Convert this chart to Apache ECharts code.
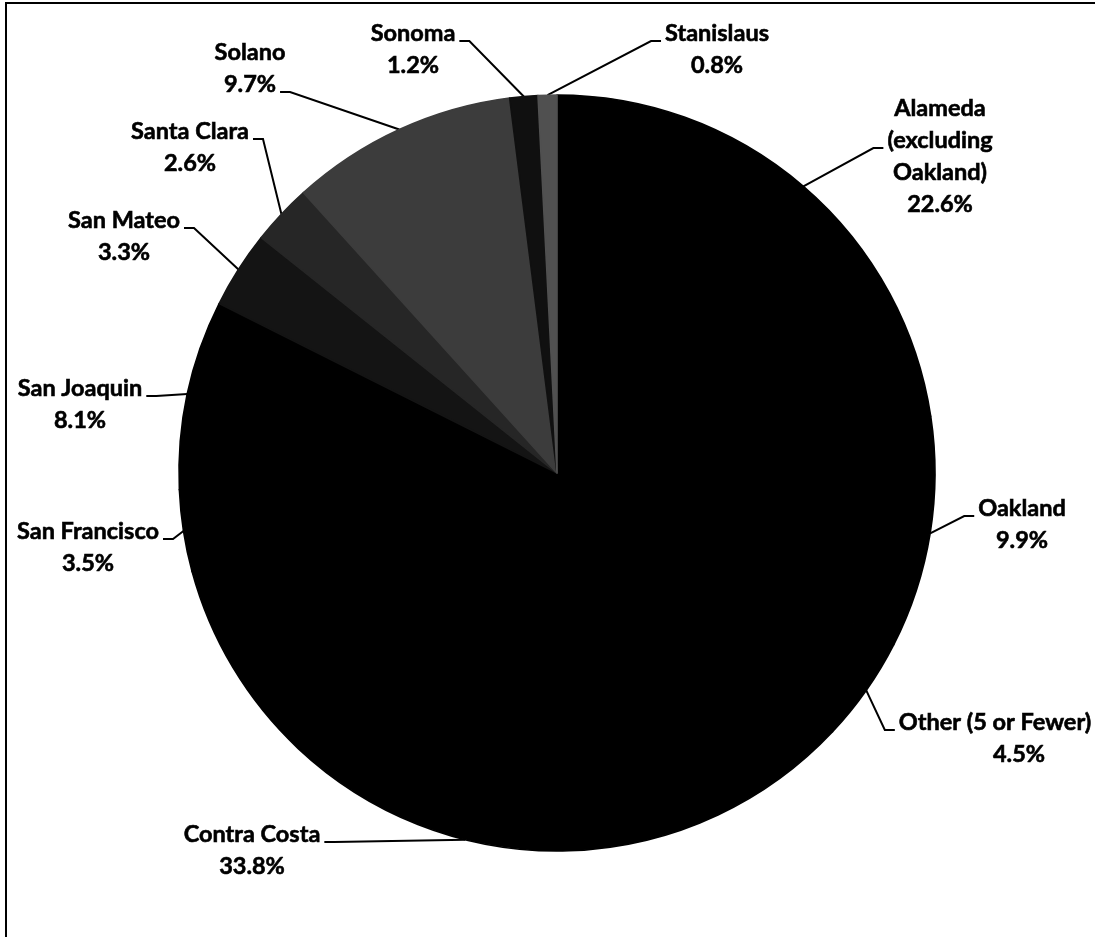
<!DOCTYPE html>
<html><head><meta charset="utf-8">
<script src="https://cdn.jsdelivr.net/npm/echarts@6/dist/echarts.min.js"></script>
<style>html,body{margin:0;padding:0;background:#fff}#c{width:1095px;height:937px}</style>
</head><body><div id="c"></div><script>
// ---- data ----
const categories = [
  'Alameda\n(excluding\nOakland)', 'Oakland', 'Other (5 or Fewer)', 'Contra Costa',
  'San Francisco', 'San Joaquin', 'San Mateo', 'Santa Clara', 'Solano', 'Sonoma', 'Stanislaus'
];
const values = [22.6, 9.9, 4.5, 33.8, 3.5, 8.1, 3.3, 2.6, 9.7, 1.2, 0.8];

// ---- styles / layout (kept separate from data) ----
const sliceColors = ['#000000', '#000000', '#000000', '#000000', '#000000', '#000000',
  '#141414', '#262626', '#3c3c3c', '#101010', '#505050'];
const labelCenterX = [940, 1022, 995, 252, 88, 80, 124, 190, 250, 413, 717];
const labelTopY = [92, 492, 706, 818, 515, 372, 204, 115, 36, 17, 17];
const labelSide = ['left', 'left', 'left', 'right', 'right', 'right', 'right', 'right', 'right', 'right', 'left'];
const labelAttachLine = [1, 0, 0, 0, 0, 0, 0, 0, 1, 0, 0];
const pctPadLeft = [0, 0, 48, 0, 0, 0, 0, 0, 0, 0, 0];

const FONT_SIZE = 23.5, LH = 32, FONT_FAMILY = 'Lato';
const mctx = document.createElement('canvas').getContext('2d');
mctx.font = 'bold ' + FONT_SIZE + 'px ' + FONT_FAMILY;
function textW(s) { return mctx.measureText(s).width; }
function fmtPct(v) { return v.toFixed(1) + '%'; }

const chart = echarts.init(document.getElementById('c'), null, { renderer: 'canvas' });
chart.setOption({
  backgroundColor: '#ffffff',
  animation: false,
  graphic: [{
    type: 'rect', silent: true, z: 100,
    shape: { x: 6, y: 3, width: 1300, height: 1100 },
    style: { fill: 'none', stroke: '#000', lineWidth: 2 }
  }],
  series: [{
    type: 'pie',
    silent: true,
    center: [557, 473],
    radius: 378,
    startAngle: 90,
    clockwise: true,
    avoidLabelOverlap: false,
    data: categories.map((n, i) => ({
      name: n, value: values[i],
      itemStyle: { color: sliceColors[i], borderColor: sliceColors[i], borderWidth: 1.6 },
      label: { rich: { p: { padding: [0, 0, 0, pctPadLeft[i]] } } }
    })),
    label: {
      show: true,
      position: 'outside',
      color: '#000',
      fontFamily: FONT_FAMILY,
      fontWeight: 'bold',
      fontSize: FONT_SIZE,
      lineHeight: LH,
      textBorderColor: '#000',
      textBorderWidth: 0.6,
      formatter: p => p.name + '\n{p|' + fmtPct(p.value) + '}',
      rich: {
        p: { fontFamily: FONT_FAMILY, fontWeight: 'bold', fontSize: FONT_SIZE, lineHeight: LH,
             color: '#000', textBorderColor: '#000', textBorderWidth: 0.6 }
      }
    },
    labelLine: { show: true, length: 6, length2: 6, smooth: false, lineStyle: { color: '#000', width: 2 } },
    labelLayout: function (p) {
      const i = p.dataIndex;
      const lines = categories[i].split('\n').concat([fmtPct(values[i])]);
      const top = labelTopY[i], cx = labelCenterX[i];
      const li = labelAttachLine[i];
      const w = textW(lines[li]);
      const ay = top + li * LH + LH / 2 + 8;
      let ax, ex;
      if (labelSide[i] === 'left') { ax = cx - w / 2 - 4; ex = ax - 10; }
      else { ax = cx + w / 2 + 4; ex = ax + 10; }
      const p0 = p.labelLinePoints[0];
      return {
        x: cx, y: top, align: 'center', verticalAlign: 'top',
        labelLinePoints: [[p0[0], p0[1]], [ex, ay], [ax, ay]]
      };
    }
  }]
});
</script></body></html>
